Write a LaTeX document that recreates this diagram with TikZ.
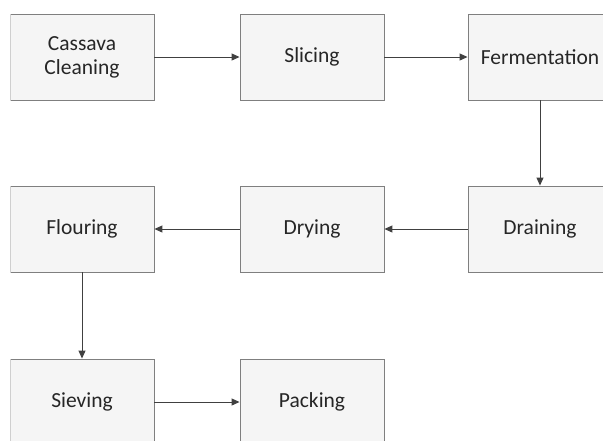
\documentclass[tikz,border=0pt]{standalone}
\usepackage{fontspec}
\setmainfont{Carlito}
\usetikzlibrary{arrows.meta,shadows}
\definecolor{boxfill}{HTML}{F5F5F5}
\definecolor{boxline}{HTML}{7F7F7F}
\definecolor{arrowcol}{HTML}{404040}
\tikzset{
  stepbox/.style={draw=boxline, line width=0.9pt, fill=boxfill, minimum width=144pt, minimum height=86pt, inner sep=0pt, align=center, font=\fontsize{21.5}{24}\selectfont, text=black!85,
    drop shadow={shadow xshift=1.2pt, shadow yshift=-1.2pt, opacity=0.35, fill=black!60}},
  flow/.style={-{Triangle[length=8pt,width=7pt]}, draw=arrowcol, line width=1pt}
}
\begin{document}
\begin{tikzpicture}[x=1pt,y=-1pt]
\useasboundingbox (0,0) rectangle (603,440);
\clip (10.5,0) rectangle (603,440);
\node[stepbox] (clean) at (82,57) {Cassava\\Cleaning};
\node[stepbox] (slice) at (312,57) {Slicing};
\node[stepbox] (ferm) at (540,57) {Fermentation};
\node[stepbox] (drain) at (540,229) {Draining};
\node[stepbox] (dry) at (312,229) {Drying};
\node[stepbox] (flour) at (82,229) {Flouring};
\node[stepbox] (sieve) at (82,402) {Sieving};
\node[stepbox] (pack) at (312,402) {Packing};
\draw[flow] (clean) -- (slice);
\draw[flow] (slice) -- (ferm);
\draw[flow] (ferm) -- (drain);
\draw[flow] (drain) -- (dry);
\draw[flow] (dry) -- (flour);
\draw[flow] (flour) -- (sieve);
\draw[flow] (sieve) -- (pack);
\end{tikzpicture}
\end{document}
